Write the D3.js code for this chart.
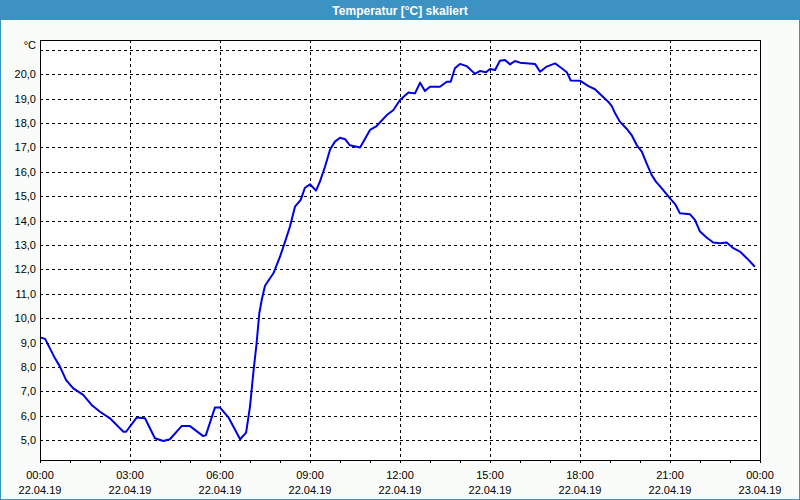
<!DOCTYPE html>
<html>
<head>
<meta charset="utf-8">
<script src="https://cdn.jsdelivr.net/npm/d3@7"></script>
<style>
  html, body { margin: 0; padding: 0; background: #f9fcf9; }
  svg { display: block; }
</style>
</head>
<body>
<svg id="chart" width="800" height="500"></svg>
<script>
// ---- data ----
const title = "Temperatur [°C] skaliert";
const unitLabel = "°C";
const hours = [0.03,0.17,0.5,0.67,0.87,1.11,1.44,1.72,2.0,2.33,2.78,2.87,3.22,3.5,3.83,4.11,4.33,4.72,5.0,5.44,5.53,5.83,6.0,6.28,6.67,6.87,7.0,7.11,7.22,7.31,7.39,7.5,7.78,8.0,8.17,8.33,8.5,8.69,8.83,9.0,9.2,9.33,9.5,9.67,9.83,10.0,10.17,10.33,10.67,11.0,11.22,11.56,11.78,12.0,12.28,12.5,12.67,12.83,13.0,13.33,13.56,13.69,13.83,14.0,14.22,14.5,14.67,14.87,15.0,15.17,15.33,15.5,15.67,15.83,16.0,16.5,16.67,16.89,17.17,17.39,17.56,17.69,18.0,18.28,18.5,18.78,18.94,19.06,19.17,19.33,19.56,19.72,19.89,20.06,20.22,20.39,20.53,20.72,21.0,21.17,21.33,21.67,21.83,22.0,22.22,22.44,22.67,22.89,23.11,23.33,23.56,23.83];
const temps = [9.2,9.15,8.35,8.0,7.46,7.12,6.85,6.44,6.16,5.89,5.34,5.34,5.92,5.89,5.07,4.96,5.03,5.57,5.57,5.16,5.2,6.33,6.33,5.93,5.03,5.3,6.37,7.74,8.97,10.2,10.74,11.33,11.84,12.52,13.14,13.75,14.57,14.85,15.35,15.49,15.23,15.6,16.21,16.92,17.24,17.4,17.34,17.09,17.0,17.72,17.88,18.33,18.54,18.95,19.26,19.22,19.66,19.32,19.49,19.49,19.7,19.7,20.25,20.43,20.34,20.02,20.14,20.09,20.22,20.18,20.56,20.59,20.41,20.55,20.48,20.43,20.11,20.32,20.45,20.25,20.09,19.75,19.74,19.52,19.39,19.06,18.88,18.7,18.4,18.06,17.76,17.51,17.1,16.83,16.35,15.87,15.6,15.33,14.91,14.68,14.3,14.26,14.03,13.55,13.31,13.1,13.07,13.1,12.87,12.73,12.46,12.11];
const xTickHours = [0,3,6,9,12,15,18,21,24];
const xTickTimes = ["00:00","03:00","06:00","09:00","12:00","15:00","18:00","21:00","00:00"];
const xTickDates = ["22.04.19","22.04.19","22.04.19","22.04.19","22.04.19","22.04.19","22.04.19","22.04.19","23.04.19"];
const yTicks = [5,6,7,8,9,10,11,12,13,14,15,16,17,18,19,20];
const yUnitTick = 21;

// ---- layout ----
const W = 800, H = 500;
const mLeft = 40, mRight = 760, mTop = 40, mBottom = 460;
const svg = d3.select("#chart");
const font = "'Liberation Sans', Arial, sans-serif";

const x = d3.scaleLinear().domain([0, 24]).range([mLeft, mRight]);
const y = d3.scaleLinear().domain([4.18, 21.41]).range([mBottom, mTop]);

// background
svg.append("rect").attr("x", 0).attr("y", 0).attr("width", W).attr("height", H).attr("fill", "#f9fcf9");
// title bar
svg.append("rect").attr("x", 0).attr("y", 0).attr("width", W).attr("height", 20).attr("fill", "#3d92c4");
svg.append("text").attr("x", W / 2).attr("y", 14.5).attr("text-anchor", "middle")
  .attr("font-family", font).attr("font-weight", "bold").attr("font-size", 12).attr("fill", "#ffffff")
  .text(title);
// outer blue border
svg.append("rect").attr("x", 0.5).attr("y", 0.5).attr("width", W - 1).attr("height", H - 1)
  .attr("fill", "none").attr("stroke", "#3d92c4").attr("stroke-width", 1);

// plot area
svg.append("rect").attr("x", mLeft).attr("y", mTop).attr("width", mRight - mLeft).attr("height", mBottom - mTop)
  .attr("fill", "#ffffff");

// horizontal gridlines
const gridY = yTicks.concat([yUnitTick]);
svg.append("g").selectAll("line").data(gridY).join("line")
  .attr("x1", mLeft).attr("x2", mRight)
  .attr("y1", d => Math.round(y(d)) + 0.5).attr("y2", d => Math.round(y(d)) + 0.5)
  .attr("stroke", "#000").attr("stroke-width", 1).attr("stroke-dasharray", "3,3")
  .attr("shape-rendering", "crispEdges");
// vertical gridlines
svg.append("g").selectAll("line").data(xTickHours.slice(1, -1)).join("line")
  .attr("x1", d => Math.round(x(d)) + 0.5).attr("x2", d => Math.round(x(d)) + 0.5)
  .attr("y1", mTop).attr("y2", mBottom)
  .attr("stroke", "#000").attr("stroke-width", 1).attr("stroke-dasharray", "3,3")
  .attr("shape-rendering", "crispEdges");

// x axis with hourly ticks
const xAxis = d3.axisBottom(x).tickValues(d3.range(0, 25, 1)).tickSize(3).tickFormat("");
const gx = svg.append("g").attr("transform", `translate(0,${mBottom})`).call(xAxis);
gx.selectAll("path, line").attr("stroke", "#000").attr("shape-rendering", "crispEdges");

// frame
svg.append("rect").attr("x", mLeft + 0.5).attr("y", mTop + 0.5).attr("width", mRight - mLeft).attr("height", mBottom - mTop)
  .attr("fill", "none").attr("stroke", "#000").attr("stroke-width", 1).attr("shape-rendering", "crispEdges");

// y labels
svg.append("g").selectAll("text").data(yTicks).join("text")
  .attr("x", 36).attr("y", d => y(d) + 4).attr("text-anchor", "end")
  .attr("font-family", font).attr("font-size", 11).attr("fill", "#000")
  .text(d => d3.format(".1f")(d).replace(".", ","));
svg.append("text").attr("x", 36).attr("y", y(yUnitTick) - 1).attr("text-anchor", "end")
  .attr("font-family", font).attr("font-size", 11).attr("fill", "#000").text(unitLabel);

// x labels
const xl = svg.append("g").selectAll("g").data(xTickHours).join("g");
xl.append("text").attr("x", d => x(d)).attr("y", 479).attr("text-anchor", "middle")
  .attr("font-family", font).attr("font-size", 11).attr("fill", "#000")
  .text((d, i) => xTickTimes[i]);
xl.append("text").attr("x", d => x(d)).attr("y", 494).attr("text-anchor", "middle")
  .attr("font-family", font).attr("font-size", 11).attr("fill", "#000")
  .text((d, i) => xTickDates[i]);

// line
const pts = hours.map((h, i) => [h, temps[i]]);
svg.append("path").datum(pts)
  .attr("d", d3.line().x(d => x(d[0])).y(d => y(d[1])))
  .attr("fill", "none").attr("stroke", "#0000e6").attr("stroke-width", 2)
  .attr("stroke-linejoin", "round");
</script>
</body>
</html>
